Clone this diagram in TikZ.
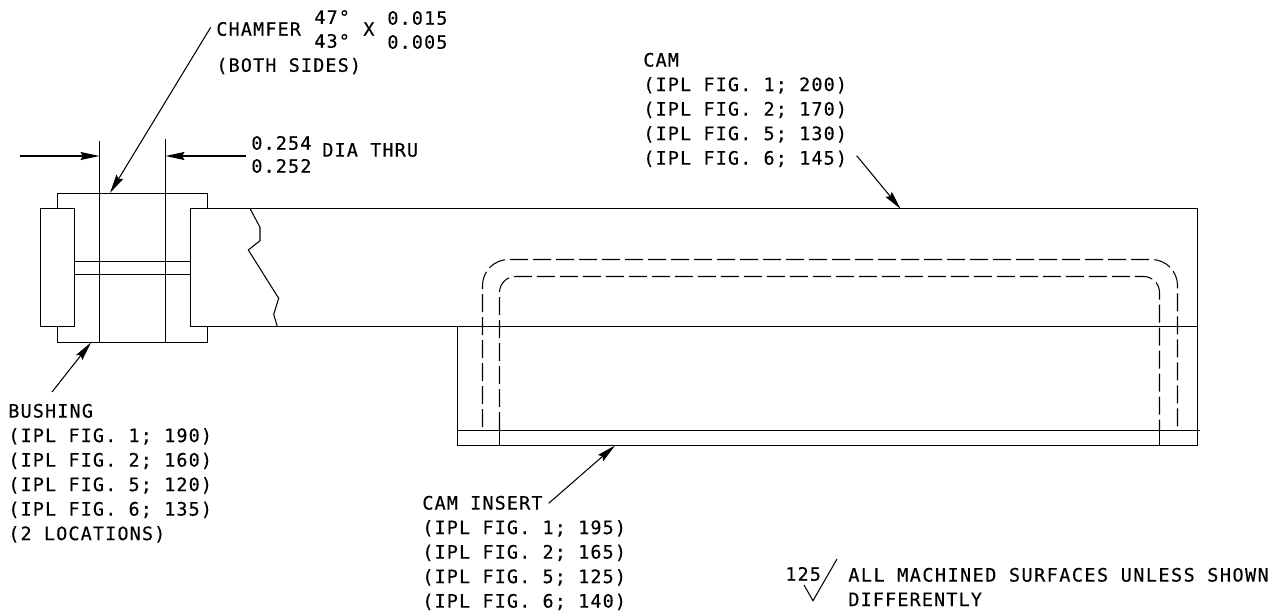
\documentclass[tikz,border=0pt]{standalone}
\usepackage{fontspec}
\setmainfont{DejaVu Sans Mono}[LetterSpace=6.2,FakeBold=0.35]
\usetikzlibrary{arrows.meta}
\usetikzlibrary{calc}
\tikzset{
  part/.style={line width=0.6pt,line join=miter},
  hidden/.style={line width=0.6pt,dash pattern=on 0.36cm off 0.1cm},
  leader/.style={line width=0.6pt,-{Stealth[length=0.38cm,width=0.16cm,inset=0.05cm]}},
  note/.style={anchor=west,align=left,inner sep=0pt,font=\fontsize{10.5}{13.95}\selectfont},
  notetop/.style={note,anchor=north west}
}

\begin{document}
\begin{tikzpicture}[x=0.02cm,y=-0.02cm]
\useasboundingbox (0,0) rectangle (1285,613);
\coordinate (chamferend) at (210.7,27.3);
\coordinate (chamfertip) at (110,193);
\coordinate (dimleft) at (20,156);
\coordinate (dimlefttip) at (99.5,156);
\coordinate (dimright) at (246,156);
\coordinate (dimrighttip) at (165.5,156);
\coordinate (bushingend) at (52,392);
\coordinate (bushingtip) at (91,342.5);
\coordinate (camend) at (856.7,155.7);
\coordinate (camtip) at (900.7,209);
\coordinate (insertend) at (548.7,503.3);
\coordinate (inserttip) at (615,445.5);
% bushing
\draw[part] (57.5,208.5) -- (57.5,193.5) -- (207.5,193.5) -- (207.5,208.5);
\draw[part] (57.5,326.5) -- (57.5,342.5) -- (207.5,342.5) -- (207.5,326.5);
\draw[part] (40.5,208.5) rectangle (74.5,326.5);
\draw[part] (99.5,141) -- (99.5,342.5);
\draw[part] (165.5,139) -- (165.5,342.5);
\draw[part] (74.5,261.5) -- (190.5,261.5);
\draw[part] (74.5,274.5) -- (190.5,274.5);
% cam
\draw[part] (190.5,326.5) -- (190.5,208.5) -- (1197.5,208.5) -- (1197.5,326.5);
\draw[part] (190.5,326.5) -- (1197.5,326.5);
\draw[part] (250,208.5) -- (260,227.3) -- (260,240.7) -- (248.3,250) -- (278.7,298.3) -- (273.7,314.3) -- (277.3,326.5);
% insert
\draw[part] (457.5,326.5) -- (457.5,445.5) -- (1197.5,445.5) -- (1197.5,326.5);
\draw[part] (457.5,430.5) -- (1199.7,430.5);
\draw[part] (499.5,430.5) -- (499.5,445.5);
\draw[part] (1159.5,430.5) -- (1159.5,445.5);
\draw[hidden,rounded corners=0.52cm] (482.5,427) -- (482.5,259.5) -- (1177.5,259.5) -- (1177.5,430);
\draw[hidden,rounded corners=0.32cm] (499.5,430) -- (499.5,276.5) -- (1159.5,276.5) -- (1159.5,430);
% leaders
\draw[leader] (chamferend) -- (chamfertip);
\draw[leader] (dimleft) -- (dimlefttip);
\draw[leader] (dimright) -- (dimrighttip);
\draw[leader] (bushingend) -- (bushingtip);
\draw[leader] (camend) -- (camtip);
\draw[leader] (insertend) -- (inserttip);
% surface finish mark
\draw[part] (837,559) -- (813,600.7) -- (804,585);
% notes
\node[note] (chamfer) at (216,29) {CHAMFER};
\node[note] (both) at (216,66) {(BOTH SIDES)};
\node[note] (anglea) at (314,17) {47°};
\node[note] (angleb) at (314,41) {43°};
\node[note] (times) at (363,29) {X};
\node[note] (depa) at (387,18) {0.015};
\node[note] (depb) at (387,42) {0.005};
\node[note] (diaa) at (251,143) {0.254};
\node[note] (diab) at (251,166) {0.252};
\node[note] (thru) at (322,150) {DIA THRU};
\node[notetop] (camnote) at (643,52.5) {CAM\\(IPL FIG. 1; 200)\\(IPL FIG. 2; 170)\\(IPL FIG. 5; 130)\\(IPL FIG. 6; 145)};
\node[notetop] (bushingnote) at (8,403.5) {BUSHING\\(IPL FIG. 1; 190)\\(IPL FIG. 2; 160)\\(IPL FIG. 5; 120)\\(IPL FIG. 6; 135)\\(2 LOCATIONS)};
\node[notetop] (insertnote) at (422,495.5) {CAM INSERT\\(IPL FIG. 1; 195)\\(IPL FIG. 2; 165)\\(IPL FIG. 5; 125)\\(IPL FIG. 6; 140)};
\node[note] (finish) at (785,574) {125};
\node[notetop] (surfaces) at (848,567.5) {{\addfontfeature{LetterSpace=8}ALL MACHINED SURFACES UNLESS SHOWN}\\DIFFERENTLY};
\end{tikzpicture}
\end{document}
